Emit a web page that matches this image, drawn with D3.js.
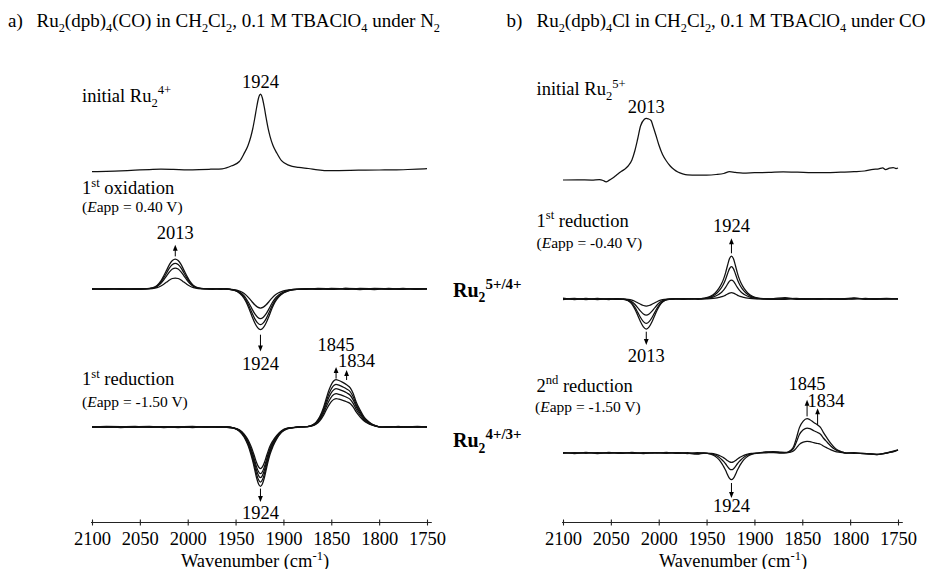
<!DOCTYPE html>
<html>
<head>
<meta charset="utf-8">
<script src="https://cdn.jsdelivr.net/npm/d3@7"></script>
<style>
  html, body { margin: 0; padding: 0; background: #fff; }
  svg { display: block; }
  text { font-family: "Liberation Serif", "Times New Roman", serif; fill: #000; white-space: pre; }
</style>
</head>
<body>
<svg id="fig" width="931" height="569"></svg>
<script>
// ---------------------------------------------------------------------------
// IR spectroelectrochemistry data (wavenumber in cm^-1, intensity in mAU)
// ---------------------------------------------------------------------------
const axisTicks = [2100, 2050, 2000, 1950, 1900, 1850, 1800, 1750];

// (a) Ru2(dpb)4(CO), initial Ru2^4+ spectrum
const wnInitial4 = [2100, 2085, 2070, 2055, 2040, 2028, 2015, 2000, 1988, 1976, 1964, 1954, 1946, 1941, 1937,
  1934, 1932, 1930, 1928, 1926, 1925, 1924, 1923, 1922, 1920, 1918, 1916, 1914, 1911, 1907,
  1902, 1894, 1884, 1874, 1864, 1854, 1842, 1830, 1815, 1800, 1785, 1770, 1760, 1750];
const absInitial4 = [-0.7, -0.3, 0.2, 0.8, 1.4, 1.8, 1.6, 1.2, 1.4, 1.8, 2.2, 5.2, 9.5, 17.6, 25.5,
  34.5, 42.5, 52.5, 63.5, 73, 75.8, 77, 75.8, 73, 63.8, 52.8, 42.7, 34.7, 25.7, 18.1,
  10.3, 5.6, 3.6, 2.5, 1.2, 0.3, 0.4, 0.6, 0.9, 1.0, 1.2, 1.5, 1.9, 2.4];

// (a) 1st oxidation difference spectra (Eapp = 0.40 V), four scans
const wnOx1 = [2100, 2085, 2070, 2055,
  2043, 2037, 2032, 2028, 2025, 2022, 2019, 2016, 2013, 2010, 2007, 2004, 2001, 1998, 1994, 1989, 1982,
  1974, 1966, 1960,
  1954, 1948, 1943, 1939, 1936, 1933, 1930, 1927, 1924, 1921, 1918, 1915, 1912, 1909, 1905, 1900, 1894, 1886,
  1876, 1864, 1850, 1835, 1820, 1805, 1790, 1775, 1760, 1750];
const ox1Scan1 = [-0.1, 0.5, -0.4, 0.2,
  0.1, 0.4, 1.3, 3.0, 4.8, 6.9, 9.0, 10.5, 11, 10.5, 9.0, 6.9, 4.8, 3.0, 1.3, 0.4, 0.1,
  0.2, -0.2, 0.3,
  -0.4, -1.3, -3.2, -6.1, -9.1, -12.5, -15.8, -18.1, -19, -18.1, -15.8, -12.5, -9.1, -6.3, -3.8, -1.9, -0.8, -0.2,
  -0.2, 0.6, 0.3, -0.3, 0.7, 0.2, -0.2, 0.6, -0.4, 0.3];
const ox1Scan2 = [0.5, -0.2, 0.3, -0.4,
  0.2, 0.8, 2.5, 5.7, 9.2, 13.2, 17.2, 20, 21, 20, 17.2, 13.2, 9.2, 5.7, 2.5, 0.8, 0.2,
  -0.3, 0.4, -0.2,
  -0.6, -2.1, -5.0, -9.5, -14.3, -19.6, -24.7, -28.2, -29.7, -28.2, -24.7, -19.6, -14.3, -9.8, -5.9, -3.0, -1.2, -0.3,
  0.5, 0.2, -0.4, 0.7, -0.2, 0.6, 0.1, -0.4, 0.5, 0.1];
const ox1Scan3 = [-0.3, 0.4, -0.2, 0.5,
  0.3, 1.0, 3.1, 6.9, 11.3, 16.2, 21.1, 24.4, 25.7, 24.4, 21.1, 16.2, 11.3, 6.9, 3.1, 1.0, 0.3,
  0.4, -0.3, 0.2,
  -0.7, -2.5, -6.1, -11.4, -17.1, -23.6, -29.6, -33.9, -35.7, -33.9, -29.6, -23.6, -17.1, -11.8, -7.1, -3.6, -1.4, -0.4,
  -0.4, 0.5, -0.2, 0.6, 0.1, -0.5, 0.6, -0.3, 0.4, -0.2];
const ox1Scan4 = [0.2, -0.3, 0.4, -0.2,
  0.3, 1.2, 3.6, 8.1, 13.2, 18.9, 24.6, 28.5, 30, 28.5, 24.6, 18.9, 13.2, 8.1, 3.6, 1.2, 0.3,
  -0.2, 0.3, -0.1,
  -0.8, -2.8, -6.9, -13, -19.5, -26.9, -33.8, -38.7, -40.7, -38.7, -33.8, -26.9, -19.5, -13.4, -8.1, -4.1, -1.6, -0.4,
  0.3, -0.4, 0.6, 0.2, -0.5, 0.4, -0.3, 0.5, -0.2, 0.3];

// (a) 1st reduction difference spectra (Eapp = -1.50 V), five scans
const wnRed1 = [2100, 2085, 2070, 2055, 2040, 2025, 2010, 1995, 1980, 1968, 1959,
  1952, 1946, 1941, 1937, 1934, 1932, 1930, 1928, 1926, 1924, 1922, 1920, 1918, 1916, 1914, 1911, 1907, 1902, 1896, 1889,
  1882,
  1875, 1870, 1866, 1862, 1858, 1855, 1852, 1849, 1847, 1845, 1842, 1838, 1834, 1830, 1827, 1824, 1820, 1816, 1812, 1808, 1804, 1798,
  1790, 1780, 1770, 1760, 1750];
const red1Scan1 = [0.1, 0.6, 0.3, -0.4, 0.2, 0.1, -0.5, 0.4, 0.2, 0.1, -0.5,
  -0.8, -2.9, -7.1, -12.9, -19.1, -24.1, -30, -35.8, -39.9, -41.6, -39.9, -35.8, -30, -24.1, -19.1, -13.7, -8.3, -3.7, -1.2, -0.4,
  0.4,
  0.3, 1.1, 2.8, 6.2, 11.9, 17.6, 22.7, 26.4, 27.8, 28.4, 27.8, 26.7, 25.3, 23.3, 19.9, 15.1, 10.2, 6.2, 3.7, 2, 0.9, 0,
  -0.1, 0.6, -0.3, 0.4, -0.1];
const red1Scan2 = [-0.4, 0.2, -0.5, 0.1, 0.6, -0.1, 0.4, -0.5, 0.3, -0.2, 0.2,
  -0.9, -3.3, -7.9, -14.4, -21.4, -27, -33.6, -40.1, -44.7, -46.6, -44.7, -40.1, -33.6, -27, -21.4, -15.4, -9.3, -4.2, -1.4, -0.5,
  0,
  0.3, 1.3, 3.3, 7.3, 14, 20.7, 26.7, 31.1, 32.7, 33.4, 32.7, 31.4, 29.7, 27.4, 23.4, 17.7, 12, 7.3, 4.3, 2.3, 1, 0,
  0.5, -0.4, 0.2, -0.1, 0.5];
const red1Scan3 = [0.5, -0.1, 0.2, 0.6, -0.2, 0.5, -0.4, 0.3, -0.1, 0.5, -0.4,
  -1, -3.5, -8.6, -15.7, -23.3, -29.3, -36.4, -43.5, -48.6, -50.6, -48.6, -43.5, -36.4, -29.3, -23.3, -16.7, -10.1, -4.6, -1.5, -0.5,
  0.5,
  0.4, 1.5, 3.8, 8.4, 16.1, 23.8, 30.7, 35.7, 37.6, 38.4, 37.6, 36.1, 34.2, 31.5, 26.9, 20.4, 13.8, 8.4, 5, 2.7, 1.2, 0,
  -0.2, 0.3, 0.1, 0.6, -0.3];
const red1Scan4 = [-0.2, 0.5, -0.3, 0.4, -0.4, 0.3, -0.2, 0.1, 0.5, -0.3, 0.3,
  -1.1, -3.9, -9.4, -17.1, -25.3, -31.9, -39.6, -47.3, -52.8, -55, -52.8, -47.3, -39.6, -31.9, -25.3, -18.2, -11, -5, -1.7, -0.6,
  -0.2,
  0.4, 1.7, 4.3, 9.4, 17.9, 26.5, 34.2, 39.7, 41.8, 42.7, 41.8, 40.1, 38, 35, 29.9, 22.6, 15.4, 9.4, 5.6, 3, 1.3, 0,
  0.4, -0.2, 0.5, -0.3, 0.4];
const red1Scan5 = [0.3, -0.4, 0.5, -0.2, 0.4, -0.5, 0.2, 0.6, -0.3, 0.4, -0.2,
  -1.2, -4.2, -10.1, -18.4, -27.3, -34.4, -42.7, -51, -56.9, -59.3, -56.9, -51, -42.7, -34.4, -27.3, -19.6, -11.9, -5.3, -1.8, -0.6,
  0.3,
  0.5, 1.9, 4.7, 10.4, 19.9, 29.4, 37.9, 44.1, 46.5, 47.4, 46.5, 44.6, 42.2, 38.9, 33.2, 25.1, 17.1, 10.4, 6.2, 3.3, 1.4, 0,
  -0.3, 0.5, -0.4, 0.3, 0.2];

// (b) Ru2(dpb)4Cl, initial Ru2^5+ spectrum
const wnInitial5 = [2100, 2085, 2070, 2062, 2058, 2055, 2052, 2048, 2044, 2040, 2036, 2032, 2028, 2025, 2022,
  2019, 2015, 2013, 2011, 2008, 2006, 2003, 2000, 1996, 1992, 1988, 1984, 1980, 1975, 1970,
  1960, 1950, 1940, 1932, 1926, 1920, 1912, 1900, 1885, 1870, 1855, 1840, 1825, 1810, 1796,
  1785, 1776, 1770, 1766, 1763, 1759, 1755, 1752, 1750];
const absInitial5 = [0, 0.2, -0.1, 0.3, -0.5, -1.8, -0.4, 2, 5, 8, 10.5, 14, 20, 29, 41,
  54, 60.8, 61.7, 61.2, 59.5, 54, 45, 35.5, 25.5, 19, 14, 10.5, 8, 6.2, 5.2,
  5, 5, 5.5, 6.5, 8.3, 7.6, 7, 7.3, 7.6, 8.2, 7.9, 7.4, 7.3, 7.8, 8.3,
  9, 10.6, 11.2, 12.2, 10.4, 11.8, 12.4, 11.5, 12];

// (b) 1st reduction difference spectra (Eapp = -0.40 V), four scans
const wnRedB1 = [2100, 2088, 2076, 2064, 2052, 2044,
  2037, 2032, 2028, 2025, 2022, 2019, 2016, 2013, 2010, 2007, 2004, 2001, 1998, 1994, 1989,
  1982, 1974, 1966, 1959,
  1952, 1946, 1941, 1937, 1934, 1932, 1930, 1928, 1926, 1924, 1922, 1920, 1918, 1916, 1914, 1911, 1907, 1902, 1896,
  1889, 1880, 1868, 1856, 1844, 1832, 1820, 1808, 1796, 1784, 1772, 1762, 1750];
const redB1Scan1 = [-0.7, 0.4, -0.5, 0.3, -0.3, 0.5,
  -0.1, -0.4, -1.2, -2.3, -3.8, -5.3, -6.5, -7, -6.5, -5.3, -3.8, -2.3, -1.2, -0.4, -0.1,
  0.3, -0.2, 0.2, 0.3,
  0.1, 0.4, 0.9, 1.6, 2.3, 3, 3.9, 5, 5.9, 6.3, 5.9, 5, 3.9, 3, 2.3, 1.6, 0.9, 0.4, 0.1,
  0.4, 0.1, -0.3, 0.4, 0.3, -0.2, 0.2, -0.3, 0.5, 0.1, 0.3, 0.6, -0.1];
const redB1Scan2 = [0.8, -0.2, 0.6, -0.6, 0.2, -0.4,
  -0.2, -1, -2.7, -5.3, -8.6, -12.2, -14.9, -16, -14.9, -12.2, -8.6, -5.3, -2.7, -1, -0.2,
  0.4, 0.1, 0.3, -0.3,
  0.4, 1.1, 2.7, 4.8, 7, 9.1, 11.8, 15, 17.9, 19, 17.9, 15, 11.8, 9.1, 7, 4.8, 2.7, 1.1, 0.4,
  0.1, -0.3, 0.2, 0.6, -0.2, 0.5, -0.3, 0.3, -0.1, 0.6, -0.2, 0.1, 0.2];
const redB1Scan3 = [-0.4, 0.7, -0.3, 0.6, -0.5, 0.3,
  -0.2, -1.5, -4.1, -8, -13.1, -18.5, -22.6, -24.3, -22.6, -18.5, -13.1, -8, -4.1, -1.5, -0.2,
  -0.2, 0.3, -0.1, 0.4,
  0.6, 1.9, 4.5, 8.1, 12, 15.5, 20, 25.5, 30.4, 32.3, 30.4, 25.5, 20, 15.5, 12, 8.1, 4.5, 1.9, 0.6,
  -0.2, 0.4, 1.4, -0.3, 0.2, -0.4, 0.5, 0.2, 1.1, -0.3, 0.4, -0.2, 0.4];
const redB1Scan4 = [0.5, -0.6, 0.3, -0.4, 0.5, -0.2,
  -0.3, -1.8, -5.1, -9.9, -16.2, -22.8, -27.9, -30, -27.9, -22.8, -16.2, -9.9, -5.1, -1.8, -0.3,
  0.2, -0.3, 0.4, 0.1,
  0.9, 2.6, 6, 10.8, 15.9, 20.6, 26.7, 34, 40.4, 43, 40.4, 34, 26.7, 20.6, 15.9, 10.8, 6, 2.6, 0.9,
  0.3, -0.2, 0.5, 0.2, -0.3, 0.4, 0.1, -0.4, 0.6, 0.2, -0.3, 0.5, 0.3];

// (b) 2nd reduction difference spectra (Eapp = -1.50 V), three scans
const wnRedB2 = [2100, 2088, 2076, 2064, 2052, 2040, 2028, 2016, 2004, 1992, 1980, 1970, 1960,
  1952, 1946, 1941, 1937, 1934, 1932, 1930, 1928, 1926, 1924, 1922, 1920, 1918, 1916, 1914, 1911, 1907, 1902, 1896,
  1888, 1880, 1872,
  1866, 1862, 1859, 1856, 1853, 1849, 1845, 1842, 1838, 1834, 1831, 1828, 1824, 1820, 1816, 1812, 1808, 1804,
  1796, 1788, 1780, 1772, 1766, 1760, 1755, 1750];
const redB2Scan1 = [0.5, -0.2, 0.6, -0.5, 0.2, -0.1, 0.6, -0.2, 0.5, -0.1, 0.2, -0.5, 0.3,
  0, -0.4, -1.1, -2.4, -3.8, -4.9, -6.2, -7.7, -8.9, -9.4, -8.9, -7.7, -6.2, -4.9, -3.8, -2.4, -1.1, -0.4, 0,
  0.2, 0.4, -0.2,
  0.2, 0.9, 2.2, 5.2, 8.6, 10.8, 11.6, 11.3, 10.3, 9.5, 8.7, 7, 5, 3.1, 1.7, 0.8, 0.3, 0,
  0.3, -0.5, -0.6, -1.2, -0.9, 0.6, 1.2, 3];
const redB2Scan2 = [-0.4, 0.4, -0.3, 0.5, -0.3, 0.5, -0.4, 0.3, -0.2, 0.6, -0.4, 0.3, -0.6,
  0, -0.7, -2, -4.2, -6.7, -8.7, -11, -13.7, -15.9, -16.7, -15.9, -13.7, -11, -8.7, -6.7, -4.2, -2, -0.7, 0,
  0.8, 0.6, 0.4,
  0.5, 2, 4.8, 11.3, 18.5, 23.3, 25, 24.3, 22.3, 20.5, 18.8, 15, 10.8, 6.8, 3.8, 1.8, 0.8, 0,
  -0.3, -0.2, -0.9, -1.6, -0.5, 0.2, 1.5, 2.8];
const redB2Scan3 = [0.3, -0.5, 0.4, -0.2, 0.6, -0.4, 0.2, -0.5, 0.4, -0.3, 0.5, -0.2, -1.2,
  -0.1, -1.1, -3.2, -6.7, -10.7, -13.9, -17.6, -21.9, -25.4, -26.7, -25.4, -21.9, -17.6, -13.9, -10.7, -6.7, -3.2, -1.1, -0.1,
  1.2, 1.5, 0.9,
  0.7, 2.7, 6.5, 15.4, 25.4, 31.9, 34.3, 33.3, 30.5, 28.1, 25.7, 20.6, 14.7, 9.3, 5.1, 2.4, 1, 0,
  0.2, -0.6, -1.2, -1.5, -0.8, 0.5, 1.8, 3.2];

// ---------------------------------------------------------------------------
// Layout
// ---------------------------------------------------------------------------
const FONT = 18.5;
const SMALL = 15.5;
const svg = d3.select('#fig');

const panels = [
  {
    xRange: [92, 427], axisY: 522.5, titleX: 255,
    groups: [
      { base: 171, wn: wnInitial4, scans: [absInitial4] },
      { base: 289, wn: wnOx1, scans: [ox1Scan1, ox1Scan2, ox1Scan3, ox1Scan4] },
      { base: 427, wn: wnRed1, scans: [red1Scan1, red1Scan2, red1Scan3, red1Scan4, red1Scan5] }
    ],
    notes: [
      { g: 0, wn: 1924, kind: 'top', label: -5.7 },
      { g: 1, wn: 2013, kind: 'up', a0: -2.6, a1: -14.3, label: -20.3 },
      { g: 1, wn: 1924, kind: 'down', a0: 5, a1: 21.7, label: 40.5 },
      { g: 2, wn: 1845, kind: 'up', a0: -1, a1: -12.6, label: -28.6 },
      { g: 2, wn: 1834, kind: 'upRight', a0: -4.8, a1: -14.8, label: -18.1, dx: -8.5 },
      { g: 2, wn: 1924, kind: 'down', a0: 2.3, a1: 15.7, label: 33 }
    ]
  },
  {
    xRange: [563, 898], axisY: 522.5, titleX: 733,
    groups: [
      { base: 180, wn: wnInitial5, scans: [absInitial5] },
      { base: 299, wn: wnRedB1, scans: [redB1Scan1, redB1Scan2, redB1Scan3, redB1Scan4] },
      { base: 453, wn: wnRedB2, scans: [redB2Scan1, redB2Scan2, redB2Scan3] }
    ],
    notes: [
      { g: 0, wn: 2013, kind: 'top', label: -5 },
      { g: 1, wn: 1924, kind: 'up', a0: -2.7, a1: -17.7, label: -24.3 },
      { g: 1, wn: 2013, kind: 'down', a0: 2.7, a1: 16, label: 32.7 },
      { g: 2, wn: 1845, kind: 'up', a0: -2.3, a1: -19, label: -29 },
      { g: 2, wn: 1834, kind: 'upRight', a0: 0, a1: -16.6, label: -18.2, dx: -10 },
      { g: 2, wn: 1924, kind: 'down', a0: 3.3, a1: 18.3, label: 32.3 }
    ]
  }
];

// Text with sub/superscript and italic runs
function rich(g, x, y, size, parts, opts = {}) {
  const t = g.append('text').attr('x', x).attr('y', y).attr('font-size', size);
  if (opts.anchor) t.attr('text-anchor', opts.anchor);
  if (opts.weight) t.attr('font-weight', opts.weight);
  let shift = 0;
  parts.forEach(p => {
    const [s, kind] = Array.isArray(p) ? p : [p, ''];
    const ts = t.append('tspan').text(s);
    let target = 0, fs = size;
    if (kind === 'sub') { target = size * 0.28; fs = size * (opts.subScale || 0.68); }
    if (kind === 'sup') { target = -size * (opts.supRise || 0.4); fs = size * (opts.supScale || 0.68); }
    if (kind === 'it') ts.attr('font-style', 'italic');
    ts.attr('dy', (target - shift).toFixed(2)).attr('font-size', fs.toFixed(2));
    shift = target;
  });
  return t;
}

function arrow(g, x, y0, y1) {
  const dir = Math.sign(y1 - y0);
  g.append('line').attr('x1', x).attr('x2', x).attr('y1', y0).attr('y2', y1 - dir * 4)
    .attr('stroke', '#000').attr('stroke-width', 1);
  g.append('path')
    .attr('d', `M${x},${y1}L${x - 2.4},${y1 - dir * 6}L${x + 2.4},${y1 - dir * 6}Z`)
    .attr('fill', '#000');
}

panels.forEach(P => {
  const x = d3.scaleLinear().domain([2100, 1750]).range(P.xRange);
  const g = svg.append('g');

  // spectra
  const yScales = P.groups.map(G => d3.scaleLinear().domain([0, 100]).range([G.base, G.base - 100]));
  P.groups.forEach((G, gi) => {
    const y = yScales[gi];
    const line = d3.line().x(d => x(d[0])).y(d => y(d[1])).curve(d3.curveMonotoneX);
    G.scans.forEach(vals => {
      g.append('path')
        .datum(G.wn.map((w, i) => [w, vals[i]]))
        .attr('d', line)
        .attr('fill', 'none')
        .attr('stroke', '#111')
        .attr('stroke-width', 1.25)
        .attr('stroke-linejoin', 'round');
    });
  });

  // peak annotations
  P.notes.forEach(n => {
    const G = P.groups[n.g];
    const y = yScales[n.g];
    const i = G.wn.indexOf(n.wn);
    const vals = G.scans.map(s => s[i]);
    const ext = (n.kind === 'down') ? y(d3.min(vals)) : y(d3.max(vals));
    const xp = x(n.wn);
    if (n.kind !== 'top') arrow(g, xp, ext + n.a0, ext + n.a1);
    const t = g.append('text').attr('font-size', FONT).attr('y', ext + n.label).text(String(n.wn));
    if (n.kind === 'upRight') t.attr('x', xp + n.dx).attr('text-anchor', 'start');
    else t.attr('x', xp).attr('text-anchor', 'middle');
  });

  // x axis
  const axis = d3.axisBottom(x).tickValues(axisTicks).tickSize(0).tickSizeOuter(0).tickFormat(d3.format('d'));
  const ax = g.append('g').attr('transform', `translate(0,${P.axisY})`).call(axis);
  ax.select('.domain').attr('d', `M${x(2101)},0H${x(1745)}`).attr('stroke', '#222').attr('stroke-width', 1.2);
  ax.selectAll('.tick line').attr('y1', -3).attr('y2', 3).attr('stroke', '#222').attr('stroke-width', 1.1);
  ax.selectAll('.tick text').attr('y', 22).attr('dy', 0)
    .attr('font-size', FONT).attr('font-family', '"Liberation Serif", "Times New Roman", serif').attr('fill', '#000');

  rich(g, P.titleX, 566.5, FONT, ['Wavenumber (cm', ['-1', 'sup'], ')'], { anchor: 'middle', supRise: 0.33 });
});

// panel titles
const TITLE = 19;
const tOpts = { subScale: 0.65 };
rich(svg, 8, 27, TITLE, ['a)'], tOpts);
rich(svg, 36.5, 27, TITLE, ['Ru', ['2', 'sub'], '(dpb)', ['4', 'sub'], '(CO) in CH', ['2', 'sub'], 'Cl', ['2', 'sub'],
  ', 0.1 M TBAClO', ['4', 'sub'], ' under N', ['2', 'sub']], tOpts);
rich(svg, 506.5, 27, TITLE, ['b)'], tOpts);
rich(svg, 536.5, 27, TITLE, ['Ru', ['2', 'sub'], '(dpb)', ['4', 'sub'], 'Cl in CH', ['2', 'sub'], 'Cl', ['2', 'sub'],
  ', 0.1 M TBAClO', ['4', 'sub'], ' under CO'], tOpts);

// trace captions, panel a
rich(svg, 82, 101.7, FONT, ['initial Ru', ['2', 'sub'], ['4+', 'sup']]);
rich(svg, 82, 194, FONT, ['1', ['st', 'sup'], ' oxidation']);
rich(svg, 82, 212, SMALL, ['(', ['E', 'it'], 'app = 0.40 V)']);
rich(svg, 82, 385, FONT, ['1', ['st', 'sup'], ' reduction']);
rich(svg, 82, 406.5, SMALL, ['(', ['E', 'it'], 'app = -1.50 V)']);

// trace captions, panel b
rich(svg, 536.5, 95, FONT, ['initial Ru', ['2', 'sub'], ['5+', 'sup']]);
rich(svg, 536.5, 226.7, FONT, ['1', ['st', 'sup'], ' reduction']);
rich(svg, 536.5, 248.3, SMALL, ['(', ['E', 'it'], 'app = -0.40 V)']);
rich(svg, 536.5, 391.7, FONT, ['2', ['nd', 'sup'], ' reduction']);
rich(svg, 535, 411.7, SMALL, ['(', ['E', 'it'], 'app = -1.50 V)']);

// redox couple labels between panels
rich(svg, 453, 296.7, 20, ['Ru', ['2', 'sub'], ['5+/4+', 'sup']], { weight: 'bold', supScale: 0.75 });
rich(svg, 453, 447, 20, ['Ru', ['2', 'sub'], ['4+/3+', 'sup']], { weight: 'bold', supScale: 0.75 });
</script>
</body>
</html>
